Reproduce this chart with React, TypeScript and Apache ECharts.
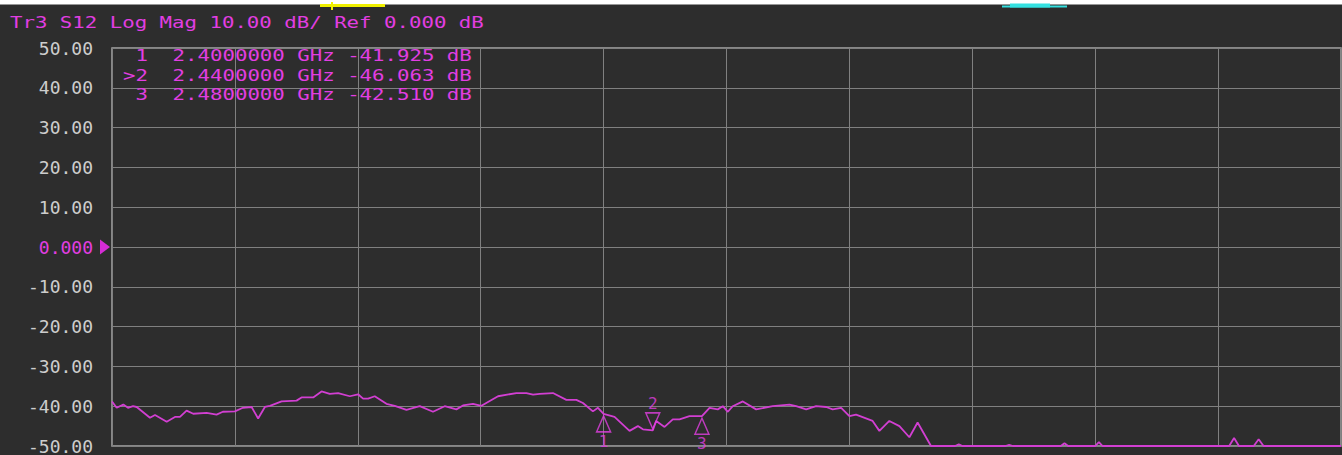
import React, { useEffect, useRef } from "react";
import * as echarts from "echarts";

// ---- data ----
const traceFreqGHz = [
  2.0, 2.0038, 2.0092, 2.013, 2.0171, 2.0201, 2.0309, 2.035, 2.0445, 2.0512, 2.0553, 2.0607, 2.0661,
  2.077, 2.0851, 2.0902, 2.1, 2.1065, 2.1136, 2.1189, 2.1244, 2.1285, 2.138, 2.1502, 2.1542, 2.1637,
  2.1705, 2.1772, 2.184, 2.1935, 2.2002, 2.2043, 2.2084, 2.2138, 2.2233, 2.2301, 2.2396, 2.2504,
  2.2612, 2.2707, 2.2802, 2.2856, 2.2937, 2.3006, 2.3141, 2.329, 2.3372, 2.3426, 2.348, 2.3588,
  2.3697, 2.3778, 2.3832, 2.3913, 2.3954, 2.4, 2.4089, 2.4211, 2.4279, 2.432, 2.44, 2.4428, 2.4496,
  2.4563, 2.4618, 2.4699, 2.48, 2.4862, 2.4929, 2.497, 2.5011, 2.5051, 2.5133, 2.5241, 2.5376,
  2.5512, 2.5567, 2.5648, 2.5729, 2.5811, 2.5864, 2.5933, 2.6, 2.6054, 2.6189, 2.6244, 2.6325,
  2.6407, 2.6488, 2.6555, 2.6664, 2.686, 2.689, 2.692, 2.727, 2.73, 2.733, 2.772, 2.775, 2.778,
  2.8, 2.803, 2.806, 2.909, 2.913, 2.917, 2.929, 2.933, 2.937, 3.0,
];
const traceS12dB = [
  -38.8, -40.4, -39.6, -40.4, -40.0, -40.2, -42.9, -42.2, -43.9, -42.7, -42.7, -41.1, -41.9,
  -41.7, -42.1, -41.4, -41.3, -40.4, -40.2, -43.1, -40.2, -39.9, -38.8, -38.6, -37.8, -37.8,
  -36.3, -36.9, -36.7, -37.5, -37.0, -38.1, -38.1, -37.5, -39.4, -39.9, -40.9, -40.0,
  -41.4, -40.0, -40.8, -39.8, -39.4, -39.9, -37.5, -36.7, -36.7, -37.1, -36.9, -36.7,
  -38.4, -38.4, -39.2, -41.3, -40.4, -41.925, -42.7, -46.2, -45.0, -45.8, -46.063, -43.7, -45.2,
  -43.3, -43.3, -42.5, -42.51, -40.4, -40.8, -40.0, -41.4, -40.0, -38.8, -40.8, -40.0,
  -39.6, -40.0, -40.8, -40.0, -40.2, -40.8, -40.4, -42.5, -42.1, -43.7, -46.2, -43.7,
  -45.0, -47.8, -44.1, -50, -50, -49.6, -50, -50, -49.7, -50, -50, -49.3, -50,
  -50, -49.0, -50, -50, -48.0, -50, -50, -48.3, -50, -50,
];
const markerIds = ["1", "2", "3"];
const markerFreqGHz = [2.4, 2.44, 2.48];
const markerS12dB = [-41.925, -46.063, -42.51];
const activeMarker = "2";
const headerText = "Tr3 S12 Log Mag 10.00 dB/ Ref 0.000 dB";
const refLevelDB = 0;

const MAG = "#e23ee2";
const BG = "#2d2d2d";
const MONO = '"DejaVu Sans Mono", monospace';
const SX = 1.295;

function monoText(text: string, x: number, y: number, color: string, align = "left") {
  return {
    type: "text",
    x,
    y,
    scaleX: SX,
    z: 20,
    style: {
      text,
      fill: color,
      fontFamily: MONO,
      fontSize: 16,
      textAlign: align,
      align,
      textVerticalAlign: "middle",
      verticalAlign: "middle",
    },
  };
}

export default function App() {
  const ref = useRef<HTMLDivElement>(null);
  useEffect(() => {
    if (!ref.current) return;
    const chart = echarts.init(ref.current, undefined, { renderer: "svg" });

    const rowY = [55.5, 75, 94.5];
    const tableEls: any[] = [];
    markerIds.forEach((id, i) => {
      const idStr = (id === activeMarker ? ">" : "") + id;
      tableEls.push(monoText(idStr, 148, rowY[i], MAG, "right"));
      tableEls.push(
        monoText(
          markerFreqGHz[i].toFixed(7) + " GHz " + markerS12dB[i].toFixed(3) + " dB",
          172.6,
          rowY[i],
          MAG
        )
      );
    });

    const option: any = {
      animation: false,
      backgroundColor: BG,
      grid: {
        left: 112,
        right: 1,
        top: 48,
        bottom: 3,
        show: true,
        borderColor: "#a5a5a5",
        borderWidth: 1.5,
        backgroundColor: BG,
      },
      xAxis: {
        type: "value",
        min: 2.0,
        max: 3.0,
        interval: 0.1,
        axisLabel: { show: false },
        axisTick: { show: false },
        axisLine: { show: false },
        splitLine: { show: true, lineStyle: { color: "#808080", width: 1 } },
      },
      yAxis: {
        type: "value",
        min: -50,
        max: 50,
        interval: 10,
        axisTick: { show: false },
        axisLine: { show: false },
        splitLine: { show: true, lineStyle: { color: "#808080", width: 1 } },
        axisLabel: {
          margin: 19,
          color: "#cdcdcd",
          fontFamily: MONO,
          fontSize: 18,
          formatter: (v: number) => (v === 0 ? "{m|0.000}" : v.toFixed(2)),
          rich: { m: { color: MAG, fontFamily: MONO, fontSize: 18 } },
        },
      },
      series: [
        {
          type: "line",
          data: traceFreqGHz.map((f, i) => [f, traceS12dB[i]]),
          showSymbol: false,
          clip: false,
          lineStyle: { color: "#d23fd2", width: 1.8 },
          z: 3,
        },
        {
          type: "scatter",
          clip: false,
          z: 4,
          data: markerIds.map((id, i) => ({
            name: id,
            value: [markerFreqGHz[i], markerS12dB[i]],
            symbolRotate: id === activeMarker ? 180 : 0,
            symbolOffset: id === activeMarker ? [0, -9.5] : [0, 10],
            label: { position: id === activeMarker ? "top" : "bottom" },
          })),
          symbol: "triangle",
          symbolSize: [14, 16],
          itemStyle: { color: "rgba(0,0,0,0)", borderColor: MAG, borderWidth: 1.5 },
          label: {
            show: true,
            formatter: "{b}",
            color: MAG,
            fontFamily: MONO,
            fontSize: 16,
            distance: 1,
          },
        },
        {
          type: "scatter",
          clip: false,
          z: 5,
          data: [[2.0, refLevelDB]],
          symbol: "triangle",
          symbolSize: [15, 10],
          symbolRotate: -90,
          symbolOffset: [-7, 0],
          itemStyle: { color: "#ff2cff" },
        },
      ],
      graphic: [
        { type: "rect", shape: { x: 0, y: 0, width: 1342, height: 4.5 }, style: { fill: "#ffffff" }, z: 30 },
        { type: "rect", shape: { x: 320, y: 4, width: 65, height: 3 }, style: { fill: "#f0f000" }, z: 31 },
        { type: "rect", shape: { x: 331, y: 2, width: 2, height: 8 }, style: { fill: "#f0f000" }, z: 31 },
        { type: "rect", shape: { x: 1002, y: 5.5, width: 65, height: 2 }, style: { fill: "#35e0e0" }, z: 31 },
        { type: "rect", shape: { x: 1010, y: 3.5, width: 40, height: 4 }, style: { fill: "#35e0e0" }, z: 31 },
        monoText(headerText, 10, 22, MAG),
        ...tableEls,
      ],
    };
    chart.setOption(option);
    return () => chart.dispose();
  }, []);
  return (
    <div
      ref={ref}
      style={{ position: "fixed", left: 0, top: 0, width: 1342, height: 455 }}
    />
  );
}
